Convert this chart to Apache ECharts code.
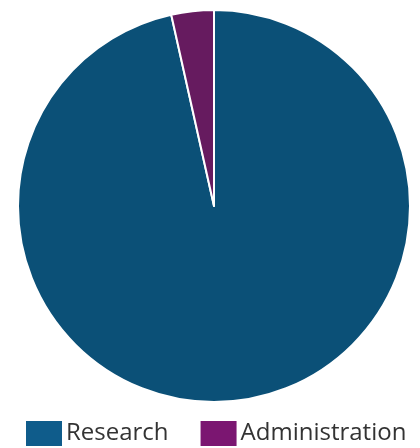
<!DOCTYPE html>
<html><head><meta charset="utf-8">
<script src="https://cdn.jsdelivr.net/npm/echarts@6/dist/echarts.min.js"></script>
<style>html,body{margin:0;padding:0;background:#fff}#c{width:420px;height:448px}</style>
</head><body><div id="c"></div>
<script>
const categories = ["Research", "Administration"];
const values = [96.5, 3.5];
const colors = ["#0b5077", "#661b5f"];
const legendColors = ["#0f5c8b", "#7b1671"];
const chart = echarts.init(document.getElementById('c'), null, {renderer: 'canvas'});
chart.setOption({
  animation: false,
  legend: {
    top: 414, left: 19,
    itemWidth: 38, itemHeight: 27, itemGap: 30,
    textStyle: {fontFamily: 'Open Sans', fontSize: 24, color: '#333', padding: [14,0,0,-2]},
    data: categories.map((n, i) => ({name: n, icon: 'rect', itemStyle: {color: legendColors[i]}}))
  },
  series: [{
    type: 'pie',
    center: [214, 206],
    radius: 196,
    startAngle: 90,
    label: {show: false},
    labelLine: {show: false},
    itemStyle: {borderColor: '#fff', borderWidth: 2},
    data: categories.map((n, i) => ({name: n, value: values[i], itemStyle: {color: colors[i]}}))
  }]
});
</script></body></html>
